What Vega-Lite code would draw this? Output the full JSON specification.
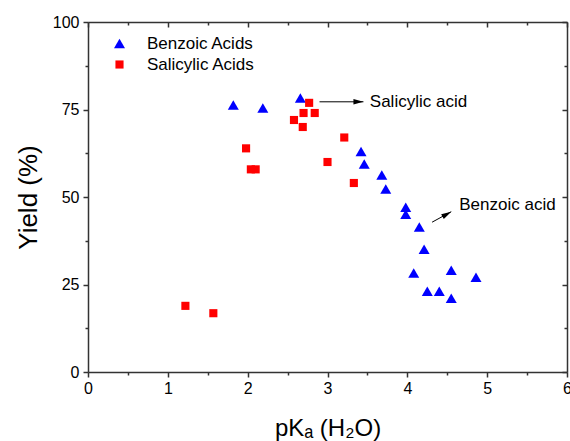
{
  "$schema": "https://vega.github.io/schema/vega-lite/v6.json",
  "width": 479,
  "height": 350,
  "autosize": {"type": "none"},
  "padding": {"left": 88, "top": 22, "right": 3, "bottom": 69},
  "config": {
    "view": {"stroke": null},
    "font": "Liberation Sans",
    "axis": {
      "grid": false,
      "domainColor": "#333333",
      "domainWidth": 1.5,
      "tickColor": "#333333",
      "tickWidth": 1.5,
      "labelColor": "#000000",
      "labelFontSize": 16,
      "labelFont": "Liberation Sans",
      "titleFont": "Liberation Sans",
      "titleColor": "#000000",
      "titleFontWeight": "normal",
      "titleFontSize": 24,
      "labelOverlap": false,
      "labelFlush": false
    },
    "legend": {"labelFont": "Liberation Sans"}
  },
  "datasets": {
    "pts": [
      {"series": "Benzoic Acids", "pka": 1.82, "yield": 76.3},
      {"series": "Benzoic Acids", "pka": 2.19, "yield": 75.4},
      {"series": "Benzoic Acids", "pka": 2.66, "yield": 78.3},
      {"series": "Benzoic Acids", "pka": 3.42, "yield": 63.0},
      {"series": "Benzoic Acids", "pka": 3.46, "yield": 59.4},
      {"series": "Benzoic Acids", "pka": 3.68, "yield": 56.3},
      {"series": "Benzoic Acids", "pka": 3.73, "yield": 52.3},
      {"series": "Benzoic Acids", "pka": 3.98, "yield": 47.1},
      {"series": "Benzoic Acids", "pka": 3.98, "yield": 45.1},
      {"series": "Benzoic Acids", "pka": 4.15, "yield": 41.4},
      {"series": "Benzoic Acids", "pka": 4.21, "yield": 35.1},
      {"series": "Benzoic Acids", "pka": 4.08, "yield": 28.3},
      {"series": "Benzoic Acids", "pka": 4.25, "yield": 23.1},
      {"series": "Benzoic Acids", "pka": 4.40, "yield": 23.1},
      {"series": "Benzoic Acids", "pka": 4.55, "yield": 29.1},
      {"series": "Benzoic Acids", "pka": 4.55, "yield": 21.1},
      {"series": "Benzoic Acids", "pka": 4.86, "yield": 27.1},
      {"series": "Salicylic Acids", "pka": 2.77, "yield": 76.9},
      {"series": "Salicylic Acids", "pka": 2.70, "yield": 74.0},
      {"series": "Salicylic Acids", "pka": 2.84, "yield": 74.0},
      {"series": "Salicylic Acids", "pka": 2.58, "yield": 72.0},
      {"series": "Salicylic Acids", "pka": 2.69, "yield": 70.0},
      {"series": "Salicylic Acids", "pka": 3.21, "yield": 67.0},
      {"series": "Salicylic Acids", "pka": 1.98, "yield": 63.9},
      {"series": "Salicylic Acids", "pka": 3.00, "yield": 60.0},
      {"series": "Salicylic Acids", "pka": 2.04, "yield": 57.9},
      {"series": "Salicylic Acids", "pka": 2.10, "yield": 57.9},
      {"series": "Salicylic Acids", "pka": 3.33, "yield": 54.0},
      {"series": "Salicylic Acids", "pka": 1.22, "yield": 18.9},
      {"series": "Salicylic Acids", "pka": 1.57, "yield": 16.8}
    ],
    "notes": [
      {"label": "Salicylic acid", "x": 3.53, "y": 77.1},
      {"label": "Benzoic acid", "x": 4.65, "y": 47.7}
    ],
    "arrows": [
      {"name": "salicylic", "x": 2.90, "y": 77.2, "x2": 3.45, "y2": 77.2},
      {"name": "benzoic", "x": 4.31, "y": 42.8, "x2": 4.55, "y2": 45.8}
    ]
  },
  "layer": [
    {
      "data": {"name": "pts"},
      "mark": {"type": "point", "filled": true, "opacity": 1, "strokeWidth": 0},
      "encoding": {
        "x": {
          "field": "pka", "type": "quantitative",
          "scale": {"domain": [0, 6], "nice": false, "zero": false},
          "axis": {
            "orient": "bottom",
            "title": "pKₐ (H₂O)",
            "values": [0, 0.5, 1, 1.5, 2, 2.5, 3, 3.5, 4, 4.5, 5, 5.5, 6],
            "labelExpr": "datum.value % 1 === 0 ? '' + datum.value : ''",
            "tickSize": {"condition": {"test": "datum.value % 1 === 0", "value": 5}, "value": 3},
            "labelPadding": 3,
            "titlePadding": 20
          }
        },
        "y": {
          "field": "yield", "type": "quantitative",
          "scale": {"domain": [0, 100], "nice": false, "zero": false},
          "axis": {
            "orient": "left",
            "title": "Yield (%)",
            "titleFontSize": 26,
            "values": [0, 12.5, 25, 37.5, 50, 62.5, 75, 87.5, 100],
            "labelExpr": "datum.value % 25 === 0 ? '' + datum.value : ''",
            "tickSize": {"condition": {"test": "datum.value % 25 === 0", "value": 5}, "value": 3},
            "labelPadding": 4,
            "titlePadding": 11
          }
        },
        "color": {
          "field": "series", "type": "nominal",
          "scale": {"domain": ["Benzoic Acids", "Salicylic Acids"], "range": ["#0000ff", "#ff0000"]},
          "legend": {
            "orient": "none", "legendX": 23, "legendY": 13, "title": null,
            "labelFontSize": 17, "labelOffset": 19, "rowPadding": 3, "labelColor": "#000000"
          }
        },
        "shape": {
          "field": "series", "type": "nominal",
          "scale": {"domain": ["Benzoic Acids", "Salicylic Acids"], "range": ["triangle-up", "square"]}
        },
        "size": {
          "field": "series", "type": "nominal",
          "scale": {"domain": ["Benzoic Acids", "Salicylic Acids"], "range": [121, 66]}
        }
      }
    },
    {
      "data": {"name": "notes"},
      "mark": {"type": "text", "align": "left", "baseline": "middle", "fontSize": 17, "font": "Liberation Sans", "color": "#000000"},
      "encoding": {
        "x": {
          "field": "x", "type": "quantitative",
          "scale": {"domain": [0, 6], "nice": false, "zero": false},
          "axis": {
            "orient": "top", "title": null, "labels": false,
            "values": [0, 0.5, 1, 1.5, 2, 2.5, 3, 3.5, 4, 4.5, 5, 5.5, 6],
            "tickSize": {"condition": {"test": "datum.value % 1 === 0", "value": -5}, "value": -3}
          }
        },
        "y": {
          "field": "y", "type": "quantitative",
          "scale": {"domain": [0, 100], "nice": false, "zero": false},
          "axis": {
            "orient": "right", "title": null, "labels": false,
            "values": [0, 12.5, 25, 37.5, 50, 62.5, 75, 87.5, 100],
            "tickSize": {"condition": {"test": "datum.value % 25 === 0", "value": -5}, "value": -3}
          }
        },
        "text": {"field": "label"}
      }
    },
    {
      "data": {"name": "arrows"},
      "mark": {"type": "rule", "color": "#000000", "strokeWidth": 1},
      "encoding": {
        "x": {"field": "x", "type": "quantitative", "scale": {"domain": [0, 6], "nice": false, "zero": false}, "axis": null},
        "y": {"field": "y", "type": "quantitative", "scale": {"domain": [0, 100], "nice": false, "zero": false}, "axis": null},
        "x2": {"field": "x2"},
        "y2": {"field": "y2"}
      }
    },
    {
      "data": {"name": "arrows"},
      "transform": [{"filter": "datum.name === 'salicylic'"}],
      "mark": {"type": "point", "filled": true, "color": "#000000", "opacity": 1, "strokeWidth": 0, "shape": "M0,0L0.55,2L-0.55,2Z", "angle": 90, "size": 100},
      "encoding": {
        "x": {"field": "x2", "type": "quantitative", "scale": {"domain": [0, 6], "nice": false, "zero": false}, "axis": null},
        "y": {"field": "y2", "type": "quantitative", "scale": {"domain": [0, 100], "nice": false, "zero": false}, "axis": null}
      }
    },
    {
      "data": {"name": "arrows"},
      "transform": [{"filter": "datum.name === 'benzoic'"}],
      "mark": {"type": "point", "filled": true, "color": "#000000", "opacity": 1, "strokeWidth": 0, "shape": "M0,0L0.55,2L-0.55,2Z", "angle": 61, "size": 100},
      "encoding": {
        "x": {"field": "x2", "type": "quantitative", "scale": {"domain": [0, 6], "nice": false, "zero": false}, "axis": null},
        "y": {"field": "y2", "type": "quantitative", "scale": {"domain": [0, 100], "nice": false, "zero": false}, "axis": null}
      }
    }
  ],
  "resolve": {"axis": {"x": "independent", "y": "independent"}}
}
